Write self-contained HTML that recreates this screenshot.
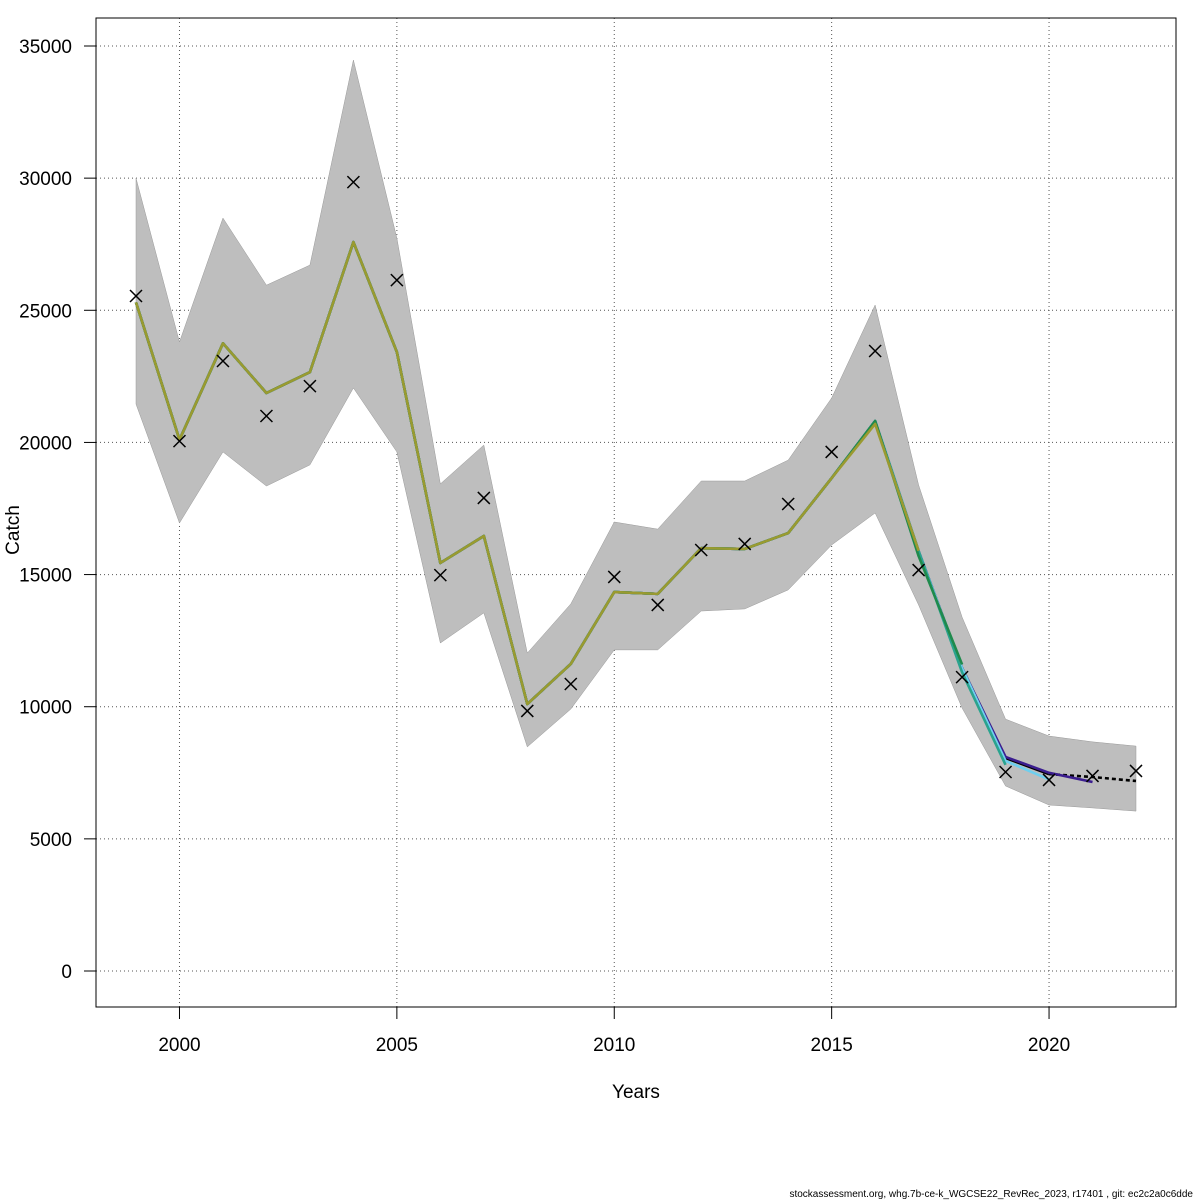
<!DOCTYPE html>
<html><head><meta charset="utf-8"><style>
html,body{margin:0;padding:0;background:#fff;}
svg{display:block;font-family:"Liberation Sans",sans-serif;}
</style></head><body>
<svg id="chart" width="1200" height="1200" viewBox="0 0 1200 1200">
<rect width="1200" height="1200" fill="#fff"/>
<g id="grid"></g>
<g id="band"></g>
<g id="lines"></g>
<g id="obs"></g>
<g id="axes"></g>
<rect x="96" y="18" width="1080" height="989" fill="none" stroke="#000" stroke-width="1"/>
<text x="636" y="1098" font-size="19" text-anchor="middle">Years</text>
<text transform="translate(19,530) rotate(-90)" font-size="19" text-anchor="middle">Catch</text>
<text x="1193" y="1197" font-size="10" text-anchor="end">stockassessment.org, whg.7b-ce-k_WGCSE22_RevRec_2023, r17401 , git: ec2c2a0c6dde</text>
</svg>
<script>
const years=[1999,2000,2001,2002,2003,2004,2005,2006,2007,2008,2009,2010,2011,2012,2013,2014,2015,2016,2017,2018,2019,2020,2021,2022];
const estimate=[25300,20100,23750,21870,22660,27580,23420,15440,16460,10100,11620,14340,14270,16000,15970,16570,18650,20810,15890,11460,8060,7450,7340,7190];
const upper=[30000,23800,28490,25950,26710,34470,27730,18430,19900,12030,13890,16990,16720,18540,18540,19330,21680,25200,18390,13390,9530,8890,8670,8510];
const lower=[21450,16950,19640,18350,19150,22060,19640,12410,13550,8480,9910,12150,12150,13620,13700,14420,16120,17330,13850,9950,7000,6280,6170,6050];
const observed=[25540,20050,23080,21000,22130,29850,26140,14980,17900,9840,10860,14910,13850,15930,16160,17670,19640,23460,15170,11120,7530,7230,7380,7570];
// retrospective peel tails (forward order, ending at peel's final year)
const peelDarkBlue=[8100,7500,7150];   // 2019-2021
const peelLightBlue=[7950,7250];       // 2019-2020
const peelTeal=[11300,7800];           // 2018-2019
const peelGreen=[15700,11600];         // 2017-2018
const peelOlive=[20700,15900];         // 2016-2017
const yTicks=[0,5000,10000,15000,20000,25000,30000,35000];
const xTicks=[2000,2005,2010,2015,2020];

const NS="http://www.w3.org/2000/svg";
const X=y=>136+(y-1999)*(1000/23);
const Y=v=>971-v*(925/35000);
function mk(tag,attrs,parent){const e=document.createElementNS(NS,tag);for(const k in attrs)e.setAttribute(k,attrs[k]);parent.appendChild(e);return e;}
const grid=document.getElementById('grid'),axes=document.getElementById('axes');
yTicks.forEach(t=>{
 const l=mk('line',{x1:96,x2:1176,y1:Y(t),y2:Y(t),stroke:'#555','stroke-dasharray':'1,3'},grid);
 
 
 const k=mk('line',{x1:84,x2:96,y1:Y(t),y2:Y(t),stroke:'#000'},axes);
 
 
 const tx=mk('text',{x:72,y:Y(t)+7,'font-size':19,'text-anchor':'end'},axes);
 tx.textContent=t;
 
 
});
xTicks.forEach(t=>{
 const l=mk('line',{x1:X(t),x2:X(t),y1:18,y2:1007,stroke:'#555','stroke-dasharray':'1,3'},grid);
 
 
 const k=mk('line',{x1:X(t),x2:X(t),y1:1007,y2:1019,stroke:'#000'},axes);
 
 
 const tx=mk('text',{x:X(t),y:1051,'font-size':19,'text-anchor':'middle'},axes);
 tx.textContent=t;
 
 
});
let pts=years.map((y,i)=>X(y)+','+Y(upper[i]));
for(let i=years.length-1;i>=0;i--)pts.push(X(years[i])+','+Y(lower[i]));
const band=mk('polygon',{points:pts.join(' '),fill:'#bebebe',stroke:'#999','stroke-width':0.5},document.getElementById('band'));


const lines=document.getElementById('lines');
function line(ys,vs,color,dash,name){
 const p=mk('polyline',{points:ys.map((y,i)=>X(y)+','+Y(vs[i])).join(' '),fill:'none',stroke:color,'stroke-width':2.6,'stroke-linejoin':'round'},lines);
 if(dash)p.setAttribute('stroke-dasharray',dash);
 
 
}
line(years.slice(0,22),estimate.slice(0,22),'#000',null,'estimate-line');
line(years.slice(21),estimate.slice(21),'#000','4,3','estimate-forecast-line');
function peel(k,tail,color,name){
 const endIdx=years.length-1-k;
 const ys=years.slice(0,endIdx+1);
 const vs=estimate.slice(0,endIdx+1-tail.length).concat(tail);
 line(ys,vs,color,null,name);
}
peel(1,peelDarkBlue,'#3b1d8f','peel-1-line');
peel(2,peelLightBlue,'#6fcfee','peel-2-line');
peel(3,peelTeal,'#2aa38e','peel-3-line');
peel(4,peelGreen,'#1f8a4c','peel-4-line');
peel(5,peelOlive,'#9a9a30','peel-5-line');
const obs=document.getElementById('obs');
years.forEach((y,i)=>{
 const cx=X(y),cy=Y(observed[i]),s=6;
 const p=mk('path',{d:`M${cx-s},${cy-s}L${cx+s},${cy+s}M${cx-s},${cy+s}L${cx+s},${cy-s}`,stroke:'#000','stroke-width':1.5},obs);
 
 
});
</script>
</body></html>
